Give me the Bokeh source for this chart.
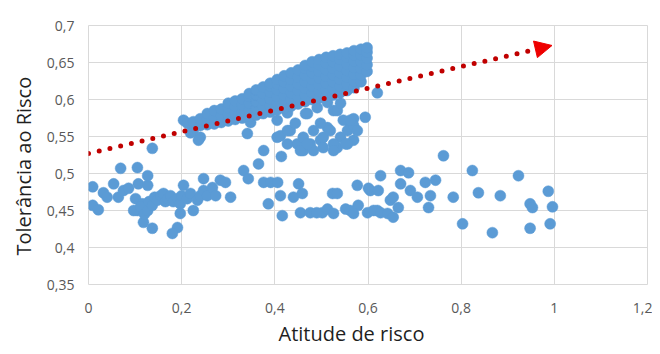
from bokeh.plotting import figure
from bokeh.models import FixedTicker, Arrow, NormalHead, Title
from bokeh.embed import file_html
from bokeh.resources import INLINE

# ---- data ----
# dense upper band (Atitude, Tolerância)
band_pts = [
    (0.204, 0.572), (0.212, 0.568), (0.225, 0.558), (0.240, 0.549), (0.236, 0.545), (0.219, 0.555),
    (0.225, 0.563), (0.225, 0.570), (0.240, 0.565), (0.240, 0.574),
    (0.255, 0.566), (0.255, 0.574), (0.255, 0.581),
    (0.270, 0.567), (0.270, 0.576), (0.270, 0.585),
    (0.285, 0.569), (0.285, 0.578), (0.285, 0.587),
    (0.300, 0.571), (0.300, 0.580), (0.300, 0.589), (0.300, 0.595),
    (0.315, 0.573), (0.315, 0.582), (0.315, 0.591), (0.315, 0.598),
    (0.330, 0.575), (0.330, 0.584), (0.330, 0.593), (0.330, 0.601),
    (0.345, 0.577), (0.345, 0.586), (0.345, 0.595), (0.345, 0.604), (0.345, 0.608),
    (0.360, 0.579), (0.360, 0.588), (0.360, 0.597), (0.360, 0.606), (0.360, 0.613),
    (0.375, 0.581), (0.375, 0.590), (0.375, 0.599), (0.375, 0.608), (0.375, 0.617),
    (0.390, 0.583), (0.390, 0.592), (0.390, 0.601), (0.390, 0.610), (0.390, 0.618), (0.390, 0.622),
    (0.405, 0.586), (0.405, 0.595), (0.405, 0.604), (0.405, 0.613), (0.405, 0.621), (0.405, 0.627),
    (0.420, 0.588), (0.420, 0.597), (0.420, 0.606), (0.420, 0.615), (0.420, 0.624), (0.420, 0.632),
    (0.435, 0.591), (0.435, 0.600), (0.435, 0.609), (0.435, 0.618), (0.435, 0.627), (0.435, 0.636),
    (0.450, 0.594), (0.450, 0.603), (0.450, 0.612), (0.450, 0.621), (0.450, 0.630), (0.450, 0.640),
    (0.465, 0.597), (0.465, 0.606), (0.465, 0.615), (0.465, 0.624), (0.465, 0.633), (0.465, 0.642), (0.465, 0.646),
    (0.480, 0.600), (0.480, 0.609), (0.480, 0.618), (0.480, 0.627), (0.480, 0.636), (0.480, 0.645), (0.480, 0.651),
    (0.495, 0.602), (0.495, 0.611), (0.495, 0.620), (0.495, 0.629), (0.495, 0.638), (0.495, 0.647), (0.495, 0.654),
    (0.510, 0.604), (0.510, 0.613), (0.510, 0.622), (0.510, 0.631), (0.510, 0.640), (0.510, 0.649), (0.510, 0.657),
    (0.525, 0.606), (0.525, 0.615), (0.525, 0.624), (0.525, 0.633), (0.525, 0.642), (0.525, 0.651), (0.525, 0.659),
    (0.540, 0.609), (0.540, 0.618), (0.540, 0.627), (0.540, 0.636), (0.540, 0.645), (0.540, 0.654), (0.540, 0.661),
    (0.555, 0.612), (0.555, 0.621), (0.555, 0.630), (0.555, 0.639), (0.555, 0.648), (0.555, 0.657), (0.555, 0.663),
    (0.570, 0.616), (0.570, 0.625), (0.570, 0.634), (0.570, 0.643), (0.570, 0.652), (0.570, 0.660), (0.570, 0.666),
    (0.585, 0.624), (0.585, 0.633), (0.585, 0.642), (0.585, 0.651), (0.585, 0.660), (0.585, 0.668),
    (0.598, 0.638), (0.598, 0.647), (0.598, 0.656), (0.598, 0.664), (0.598, 0.670),
    (0.620, 0.609),
]

# middle group below the band
mid_pts = [
    (0.137, 0.534), (0.341, 0.554), (0.348, 0.569), (0.376, 0.531), (0.365, 0.513),
    (0.405, 0.549), (0.405, 0.572), (0.414, 0.523), (0.412, 0.551), (0.433, 0.558),
    (0.448, 0.540), (0.461, 0.531), (0.470, 0.581), (0.483, 0.558), (0.498, 0.545),
    (0.513, 0.562), (0.526, 0.585), (0.534, 0.535), (0.541, 0.549), (0.562, 0.567),
    (0.569, 0.545), (0.594, 0.576), (0.427, 0.582), (0.466, 0.581), (0.513, 0.596),
    (0.534, 0.585), (0.547, 0.572), (0.569, 0.574), (0.427, 0.558), (0.444, 0.568),
    (0.461, 0.549), (0.498, 0.568), (0.504, 0.549), (0.519, 0.558), (0.526, 0.540),
    (0.556, 0.558), (0.569, 0.565), (0.577, 0.558), (0.556, 0.540), (0.476, 0.540),
    (0.455, 0.531), (0.483, 0.531), (0.526, 0.531), (0.427, 0.540), (0.491, 0.589),
    (0.552, 0.540), (0.541, 0.595), (0.562, 0.572), (0.470, 0.540), (0.504, 0.535),
]

# lower scattered group
low_pts = [
    (0.009, 0.482), (0.009, 0.457), (0.021, 0.451), (0.032, 0.474), (0.040, 0.468),
    (0.054, 0.486), (0.064, 0.468), (0.075, 0.477), (0.086, 0.480), (0.101, 0.466),
    (0.107, 0.486), (0.127, 0.484), (0.105, 0.450), (0.116, 0.459), (0.118, 0.434),
    (0.137, 0.426), (0.069, 0.507), (0.105, 0.508), (0.127, 0.497), (0.097, 0.450),
    (0.112, 0.455), (0.120, 0.445), (0.127, 0.450), (0.130, 0.462), (0.137, 0.457),
    (0.142, 0.468), (0.148, 0.464), (0.155, 0.470), (0.161, 0.473), (0.165, 0.462),
    (0.170, 0.466), (0.176, 0.470), (0.182, 0.462), (0.191, 0.466), (0.197, 0.459),
    (0.200, 0.470), (0.204, 0.484), (0.197, 0.446), (0.191, 0.427), (0.180, 0.419),
    (0.212, 0.466), (0.219, 0.473), (0.225, 0.450), (0.234, 0.464), (0.240, 0.470),
    (0.247, 0.477), (0.247, 0.493), (0.255, 0.470), (0.266, 0.481), (0.273, 0.470),
    (0.283, 0.491), (0.294, 0.488), (0.305, 0.468), (0.333, 0.504), (0.343, 0.493),
    (0.376, 0.488), (0.391, 0.488), (0.406, 0.488), (0.386, 0.459), (0.412, 0.470),
    (0.416, 0.443), (0.440, 0.468), (0.451, 0.486), (0.455, 0.447), (0.459, 0.473),
    (0.502, 0.447), (0.513, 0.452), (0.524, 0.473), (0.534, 0.473), (0.526, 0.446),
    (0.552, 0.452), (0.562, 0.450), (0.577, 0.484), (0.579, 0.457), (0.599, 0.447),
    (0.605, 0.477), (0.620, 0.450), (0.569, 0.446), (0.601, 0.480), (0.627, 0.497),
    (0.612, 0.450), (0.627, 0.447), (0.642, 0.446), (0.654, 0.441), (0.622, 0.477),
    (0.648, 0.464), (0.654, 0.468), (0.670, 0.486), (0.670, 0.504), (0.665, 0.454),
    (0.687, 0.501), (0.691, 0.477), (0.706, 0.468), (0.723, 0.488), (0.730, 0.454),
    (0.734, 0.470), (0.745, 0.491), (0.762, 0.524), (0.783, 0.468), (0.803, 0.432),
    (0.824, 0.504), (0.837, 0.474), (0.867, 0.420), (0.884, 0.470), (0.923, 0.497),
    (0.948, 0.459), (0.953, 0.454), (0.948, 0.426), (0.987, 0.476), (0.996, 0.455),
    (0.991, 0.432), (0.476, 0.447), (0.490, 0.447),
]

# trend arrow (start, end)
trend_x = [0.0, 0.995]
trend_y = [0.527, 0.673]

x_ticks = [0, 0.2, 0.4, 0.6, 0.8, 1.0, 1.2]
x_tick_labels = ["0", "0,2", "0,4", "0,6", "0,8", "1", "1,2"]
y_ticks = [0.35, 0.4, 0.45, 0.5, 0.55, 0.6, 0.65, 0.7]
y_tick_labels = ["0,35", "0,4", "0,45", "0,5", "0,55", "0,6", "0,65", "0,7"]

x_title = "Atitude de risco"
y_title = "Tolerância ao Risco"

FONT = "Open Sans"
BLUE = "#5b9bd5"
GRID = "#d9d9d9"
TITLE_COLOR = "#1f1f1f"

p = figure(width=652, height=354, output_backend="svg", toolbar_location=None,
           x_range=(0, 1.2), y_range=(0.35, 0.7),
           min_border_left=88, min_border_right=5, min_border_top=25, min_border_bottom=70)
p.outline_line_color = GRID
p.background_fill_color = "white"
p.border_fill_color = "white"

all_pts = low_pts + mid_pts + band_pts
xs = [pt[0] for pt in all_pts]
ys = [pt[1] for pt in all_pts]
p.scatter(xs, ys, size=11, fill_color=BLUE, line_color=BLUE, line_width=0.5)

p.add_layout(Arrow(end=NormalHead(size=17, fill_color="#ee0000", line_color="#ee0000"),
                   x_start=trend_x[0], y_start=trend_y[0], x_end=trend_x[1], y_end=trend_y[1],
                   line_color="#c00000", line_width=5, line_dash="0 11", line_cap="round"))

for ax, ticks, labels in ((p.xaxis[0], x_ticks, x_tick_labels), (p.yaxis[0], y_ticks, y_tick_labels)):
    ax.ticker = FixedTicker(ticks=ticks)
    ax.major_label_overrides = {t: l for t, l in zip(ticks, labels)}
    ax.axis_line_color = None
    ax.major_tick_line_color = None
    ax.minor_tick_line_color = None
    ax.major_tick_out = 0
    ax.major_tick_in = 0
    ax.major_label_text_font = FONT
    ax.major_label_text_font_size = "14px"
    ax.major_label_text_color = "#595959"

p.xaxis.major_label_standoff = 18
p.yaxis.major_label_standoff = 14

p.add_layout(Title(text=x_title, align="left", offset=190, standoff=5,
                   text_font=FONT, text_font_size="20px", text_font_style="normal",
                   text_color=TITLE_COLOR), "below")
p.add_layout(Title(text=y_title, align="left", offset=29, standoff=13,
                   text_font=FONT, text_font_size="20px", text_font_style="normal",
                   text_color=TITLE_COLOR), "left")

p.xgrid.grid_line_color = GRID
p.ygrid.grid_line_color = GRID
p.xgrid.ticker = FixedTicker(ticks=x_ticks)
p.ygrid.ticker = FixedTicker(ticks=y_ticks)

open("out.html", "w").write(file_html(p, INLINE))
